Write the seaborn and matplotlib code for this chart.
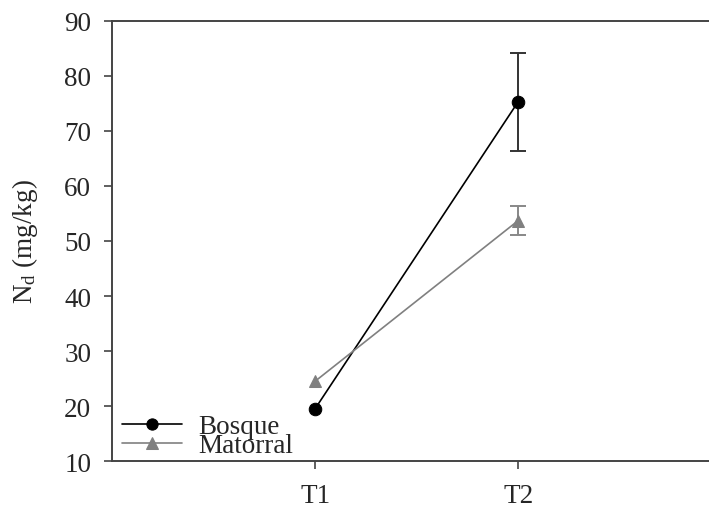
import matplotlib
matplotlib.use("Agg")
import matplotlib.pyplot as plt
import seaborn as sns
import pandas as pd

times = ["T1", "T2"]
tpos = [1, 2]
bosque = [19.5, 75.3]
bosque_err = [0.0, 8.9]
matorral = [24.5, 53.7]
matorral_err = [0.0, 2.6]
yticks = [10, 20, 30, 40, 50, 60, 70, 80, 90]

sns.set_style("ticks")
plt.rcParams["font.family"] = ["Liberation Serif", "DejaVu Serif"]
plt.rcParams["mathtext.fontset"] = "custom"
plt.rcParams["mathtext.rm"] = "Liberation Serif"
plt.rcParams["mathtext.it"] = "Liberation Serif:italic"

df = pd.DataFrame({
    "x": tpos * 2,
    "y": bosque + matorral,
    "err": bosque_err + matorral_err,
    "grupo": ["Bosque"] * 2 + ["Matorral"] * 2,
})

FS = 19.5
fig = plt.figure(figsize=(7.09, 5.10), dpi=100)
ax = fig.add_axes([0.158, 0.094, 0.842, 0.863])

styles = {"Bosque": dict(color="black", marker="o", ms=9, lw=1.2, ecolor="#333333"),
          "Matorral": dict(color="#808080", marker="^", ms=9, lw=1.2, ecolor="#888888")}

for g, st in styles.items():
    sub = df[df["grupo"] == g]
    sub_e = sub[sub["err"] > 0]
    ax.errorbar(sub_e["x"], sub_e["y"], yerr=sub_e["err"], fmt="none",
                ecolor=st["ecolor"], elinewidth=1.4, capsize=6, capthick=1.4, zorder=2)
    sns.lineplot(data=sub, x="x", y="y", ax=ax, color=st["color"], marker=st["marker"],
                 markersize=st["ms"], markeredgecolor=st["color"], linewidth=st["lw"],
                 label=g, zorder=3)

ax.set_xlim(0, 2.94)
ax.set_ylim(10, 90)
ax.set_xticks(tpos)
ax.set_xticklabels(times)
ax.set_yticks(yticks)
ax.tick_params(axis="both", labelsize=FS, direction="out", length=6, width=1.2, color="#444444")
ax.tick_params(axis="y", pad=9)
ax.tick_params(axis="x", pad=10)
ax.set_xlabel("")
ax.set_ylabel(r"N$_\mathrm{d}$ (mg/kg)", fontsize=FS, labelpad=17)
for s in ["left", "top", "bottom"]:
    ax.spines[s].set_color("#444444")
    ax.spines[s].set_linewidth(1.4)
ax.spines["right"].set_visible(False)

ax.legend(loc="lower left", frameon=False, fontsize=FS, handlelength=2.25,
          handletextpad=0.6, labelspacing=-0.22, borderaxespad=0.25, borderpad=0.1,
          markerscale=0.9, bbox_to_anchor=(0.0, -0.015))

fig.savefig("out.png", dpi=100)
